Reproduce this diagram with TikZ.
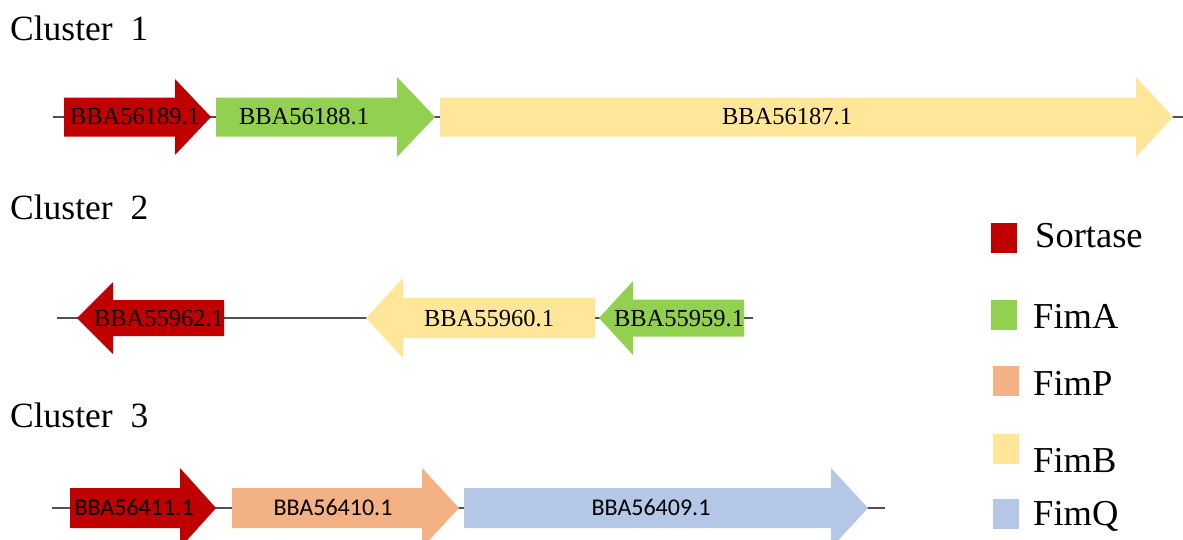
\documentclass[tikz,border=0pt]{standalone}
\usepackage{fontspec}
\setmainfont{Liberation Serif}
\newfontfamily\calib{Carlito}
\definecolor{cred}{HTML}{C00000}
\definecolor{cgreen}{HTML}{92D050}
\definecolor{cyellow}{HTML}{FFE699}
\definecolor{corange}{HTML}{F4B183}
\definecolor{cblue}{HTML}{B4C7E7}
\definecolor{cline}{HTML}{505050}
% #1 body end, #2 head base, #3 tip, #4 line y, #5 body half, #6 head half, #7 colour
\newcommand{\genearrowshape}[7]{%
  \fill[#7] ({#1},{#4-#5}) -- ({#2},{#4-#5}) -- ({#2},{#4-#6}) -- ({#3},{#4})
    -- ({#2},{#4+#6}) -- ({#2},{#4+#5}) -- ({#1},{#4+#5}) -- cycle;}
\begin{document}
\begin{tikzpicture}[x=1pt,y=-1pt,
  backbone/.style={draw=cline,line width=1.3pt},
  title/.style={anchor=base west,inner sep=0pt,font=\fontsize{35.5}{40}\selectfont},
  genelabel/.style={anchor=base,inner sep=0pt,font=\fontsize{24.5}{28}\selectfont},
  genelabelsans/.style={anchor=base,inner sep=0pt,font=\calib\fontsize{24}{28}\selectfont},
  legbox/.style={inner sep=0pt,minimum width=26pt,minimum height=30pt},
  legtext/.style={anchor=base west,inner sep=0pt,font=\fontsize{36.5}{40}\selectfont}]
\useasboundingbox (0,0) rectangle (1183,539);
\begin{scope}
\clip (0,0) rectangle (1183,539);
% titles
\node[title] (t1) at (10,40) {Cluster\ \ 1};
\node[title] (t2) at (10,219) {Cluster\ \ 2};
\node[title] (t3) at (10,427) {Cluster\ \ 3};
% cluster 1
\coordinate (c1s) at (53,117);
\coordinate (c1e) at (1183,117);
\draw[backbone] (c1s) -- (c1e);
\genearrowshape{64}{175}{211}{117}{19.5}{38}{cred}
\genearrowshape{216}{397}{435}{117}{19.5}{40}{cgreen}
\genearrowshape{440}{1136}{1173}{117}{19.5}{40}{cyellow}
\node[genelabel] (g189) at (135,124.5) {BBA56189.1};
\node[genelabel] (g188) at (304,124.5) {BBA56188.1};
\node[genelabel] (g187) at (787,124.5) {BBA56187.1};
% cluster 2
\coordinate (c2s) at (57,318);
\coordinate (c2e) at (753,318);
\draw[backbone] (c2s) -- (c2e);
\genearrowshape{224}{113}{77}{318}{18}{36}{cred}
\genearrowshape{595}{403}{366}{318}{20}{40}{cyellow}
\genearrowshape{744}{633}{599}{318}{18.5}{37}{cgreen}
\node[genelabel] (g962) at (159,326) {BBA55962.1};
\node[genelabel] (g960) at (489,326) {BBA55960.1};
\node[genelabel] (g959) at (679,326) {BBA55959.1};
% cluster 3
\coordinate (c3s) at (52,508);
\coordinate (c3e) at (885,508);
\draw[backbone] (c3s) -- (c3e);
\genearrowshape{70}{180}{216}{508}{20}{40}{cred}
\genearrowshape{232}{422}{459}{508}{20}{40}{corange}
\genearrowshape{464}{831}{868}{508}{20}{40}{cblue}
\node[genelabelsans] (g411) at (134,515) {BBA56411.1};
\node[genelabelsans] (g410) at (333,515) {BBA56410.1};
\node[genelabelsans] (g409) at (651,515) {BBA56409.1};
% legend
\node[legbox,fill=cred] (l1) at (1004,238) {};
\node[legbox,fill=cgreen] (l2) at (1004,314.5) {};
\node[legbox,fill=corange] (l3) at (1005.5,380.5) {};
\node[legbox,fill=cyellow] (l4) at (1005.5,449) {};
\node[legbox,fill=cblue] (l5) at (1005.5,514) {};
\node[legtext] (lt1) at (1035,247) {Sortase};
\node[legtext] (lt2) at (1033,328) {FimA};
\node[legtext] (lt3) at (1033,395) {FimP};
\node[legtext] (lt4) at (1033,472) {FimB};
\node[legtext] (lt5) at (1033,525) {FimQ};
\end{scope}
\end{tikzpicture}
\end{document}
